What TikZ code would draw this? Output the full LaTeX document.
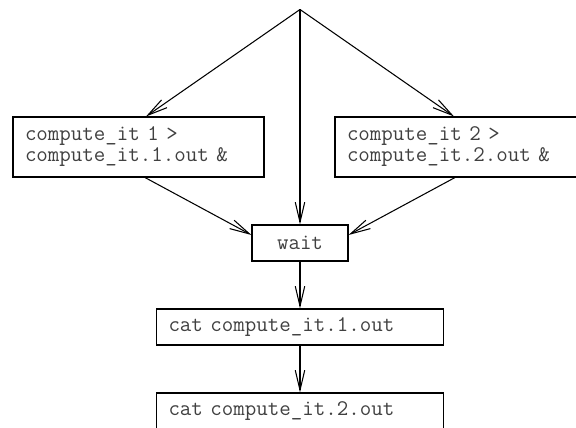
\documentclass[tikz,border=0pt]{standalone}
\usetikzlibrary{arrows.meta}
\newcommand{\jobfont}{\ttfamily\fontsize{12.7}{11.95}\selectfont\spaceskip=\fontcharwd\font`a\relax}
\begin{document}
\begin{tikzpicture}[
  box/.style={draw, line width=0.6pt, font=\jobfont, text=black!75},
  jobbox/.style={box, minimum width=5.02cm, minimum height=1.2cm, text width=4.54cm, inner xsep=0.24cm, align=left},
  catbox/.style={box, minimum width=5.74cm, minimum height=0.72cm, text width=5.26cm, inner xsep=0.24cm, align=left},
  flow/.style={line width=0.6pt, -{Straight Barb[length=0.4cm,width=0.19cm]}}
]
\useasboundingbox (0,0) rectangle (11.52,8.54);
\coordinate (fork) at (6,8.35);
\node [jobbox] (compute1) at (2.77,5.6) {compute\_it 1 >\\compute\_it.1.out \&};
\node [jobbox] (compute2) at (9.21,5.6) {compute\_it 2 >\\compute\_it.2.out \&};
\node [box, minimum width=1.92cm, minimum height=0.72cm] (wait) at (6,3.68) {wait};
\node [catbox] (cat1) at (6,2.0) {cat compute\_it.1.out};
\node [catbox] (cat2) at (6,0.32) {cat compute\_it.2.out};
\draw [flow] (fork) -- ([xshift=0.15cm]compute1.north);
\draw [flow] (fork) -- ([xshift=-0.13cm]compute2.north);
\draw [flow] (fork) -- (wait.north);
\draw [flow] ([xshift=0.13cm]compute1.south) -- ([yshift=0.16cm]wait.west);
\draw [flow] ([xshift=-0.11cm]compute2.south) -- ([yshift=0.16cm]wait.east);
\draw [flow] (wait) -- (cat1);
\draw [flow] (cat1) -- (cat2);
\end{tikzpicture}
\end{document}
